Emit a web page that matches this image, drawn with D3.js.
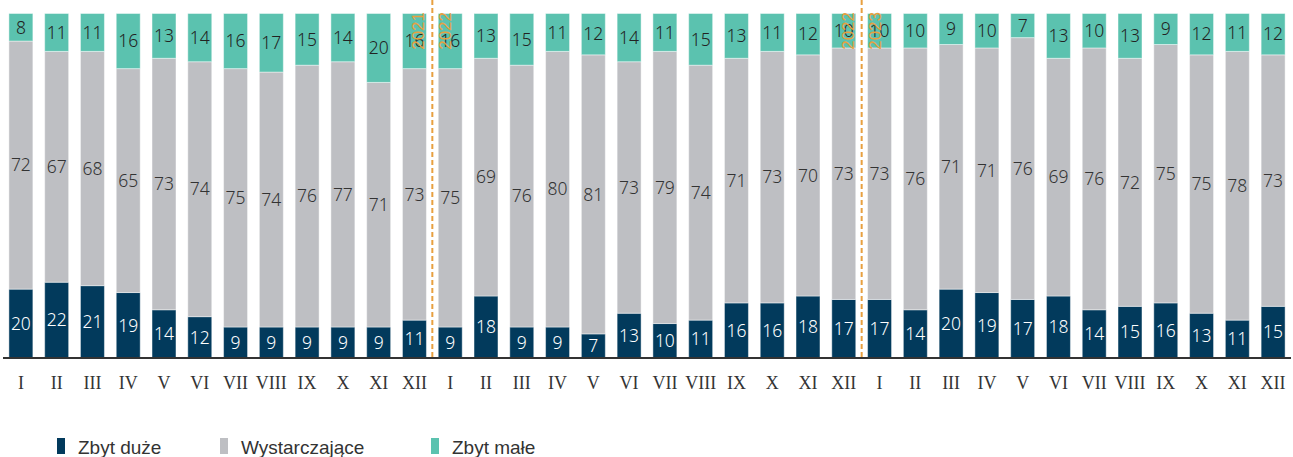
<!DOCTYPE html>
<html>
<head>
<meta charset="utf-8">
<script src="https://cdn.jsdelivr.net/npm/d3@7"></script>
<style>
  html, body { margin: 0; padding: 0; background: #fff; }
  svg { display: block; }
</style>
</head>
<body>
<svg id="chart" width="1293" height="457"></svg>
<script>
// Monthly survey answers, three years in a row (percent of responses)
const years = ["2021", "2022", "2023"];
const months = ["I", "II", "III", "IV", "V", "VI", "VII", "VIII", "IX", "X", "XI", "XII"];
const seriesNames = ["Zbyt duże", "Wystarczające", "Zbyt małe"];

const zbytDuze = [
  20, 22, 21, 19, 14, 12, 9, 9, 9, 9, 9, 11,
  9, 18, 9, 9, 7, 13, 10, 11, 16, 16, 18, 17,
  17, 14, 20, 19, 17, 18, 14, 15, 16, 13, 11, 15
];
const wystarczajace = [
  72, 67, 68, 65, 73, 74, 75, 74, 76, 77, 71, 73,
  75, 69, 76, 80, 81, 73, 79, 74, 71, 73, 70, 73,
  73, 76, 71, 71, 76, 69, 76, 72, 75, 75, 78, 73
];
const zbytMale = [
  8, 11, 11, 16, 13, 14, 16, 17, 15, 14, 20, 16,
  16, 13, 15, 11, 12, 14, 11, 15, 13, 11, 12, 10,
  10, 10, 9, 10, 7, 13, 10, 13, 9, 12, 11, 12
];

const colors = ["#023a5c", "#bebfc3", "#5bc2af"];
const labelColors = ["#ffffff", "#333333", "#222222"];

const rows = [];
years.forEach((y, yi) => months.forEach((m, mi) => {
  const i = yi * 12 + mi;
  rows.push({ key: y + "-" + m, month: m, year: y,
    "Zbyt duże": zbytDuze[i], "Wystarczające": wystarczajace[i], "Zbyt małe": zbytMale[i] });
}));

const svg = d3.select("#chart");
const baseY = 358, topY = 13.5;

const x = d3.scaleBand()
  .domain(rows.map(d => d.key))
  .range([3, 1291])
  .paddingInner(0.33)
  .paddingOuter(0.165);

const y = d3.scaleLinear().domain([0, 100]).range([baseY, topY]);

const stacked = d3.stack().keys(seriesNames)(rows);

const layers = svg.append("g").selectAll("g")
  .data(stacked)
  .join("g")
  .attr("fill", (d, i) => colors[i]);

layers.selectAll("rect")
  .data(d => d)
  .join("rect")
  .attr("x", d => x(d.data.key))
  .attr("width", x.bandwidth())
  .attr("y", d => y(d[1]))
  .attr("height", d => y(d[0]) - y(d[1]))
  .attr("stroke", "rgba(255,255,255,0.45)")
  .attr("stroke-width", 1);

// value labels in the middle of each segment
stacked.forEach((layer, li) => {
  svg.append("g").selectAll("text")
    .data(layer)
    .join("text")
    .attr("x", d => x(d.data.key) + x.bandwidth() / 2)
    .attr("y", d => (y(d[0]) + y(d[1])) / 2)
    .attr("dy", "0.36em")
    .attr("text-anchor", "middle")
    .attr("font-family", "'Noto Sans', 'DejaVu Sans', sans-serif")
    .attr("font-size", 17.5)
    .attr("font-weight", 300)
    .attr("fill", labelColors[li])
    .text(d => d.data[layer.key]);
});

// baseline
svg.append("line")
  .attr("x1", 3).attr("x2", 1291)
  .attr("y1", baseY).attr("y2", baseY)
  .attr("stroke", "#333").attr("stroke-width", 2);

// month labels along the bottom
const xAxis = d3.axisBottom(x).tickSize(0).tickPadding(0).tickFormat(k => k.split("-")[1]);
const axisG = svg.append("g").attr("transform", `translate(0,${baseY})`).call(xAxis);
axisG.select(".domain").remove();
axisG.selectAll("text")
  .attr("y", 31)
  .attr("dy", 0)
  .attr("font-family", "'Liberation Serif', 'DejaVu Serif', serif")
  .attr("font-size", 18)
  .attr("fill", "#333");

// year separators
const step = x.step();
[1, 2].forEach(b => {
  const sx = x(rows[b * 12].key) - x.paddingInner() * step / 2;
  svg.append("line")
    .attr("x1", sx).attr("x2", sx)
    .attr("y1", 0).attr("y2", baseY)
    .attr("stroke", "#e8a040")
    .attr("stroke-width", 2)
    .attr("stroke-dasharray", "5,3");
  [[years[b - 1], -14], [years[b], 13]].forEach(([t, off]) => {
    svg.append("text")
      .attr("transform", `translate(${sx + off},12) rotate(-90)`)
      .attr("text-anchor", "end")
      .attr("dy", "0.35em")
      .attr("font-family", "'Liberation Sans', Arial, sans-serif")
      .attr("font-size", 17)
      .attr("fill", "#e8a040")
      .text(t);
  });
});

// legend
const legendX = [57, 220, 431];
const legend = svg.append("g").selectAll("g")
  .data(seriesNames)
  .join("g")
  .attr("transform", (d, i) => `translate(${legendX[i]},438)`);
legend.append("rect")
  .attr("width", 8).attr("height", 16)
  .attr("fill", (d, i) => colors[i]);
legend.append("text")
  .attr("x", 21).attr("y", 15.5)
  .attr("font-family", "'Liberation Sans', Arial, sans-serif")
  .attr("font-size", 19)
  .attr("fill", "#333")
  .text(d => d);
</script>
</body>
</html>
